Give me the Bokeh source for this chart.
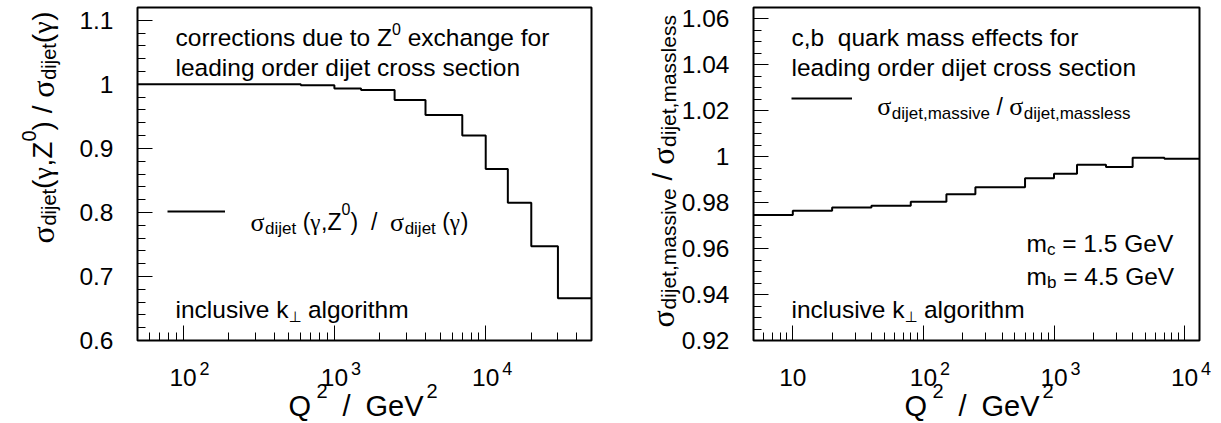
import math
import re
from bokeh.plotting import figure
from bokeh.models import FixedTicker, Label, Legend, LegendItem, BoxAnnotation
from bokeh.layouts import row
from bokeh.embed import file_html
from bokeh.resources import INLINE

# ---------------- data ----------------
# left panel: sigma_dijet(gamma,Z0)/sigma_dijet(gamma) vs Q^2 (bin edges + bin values)
q2_edges_z0 = [50, 80, 150, 250, 600, 1000, 1500, 2500, 4000, 7000, 10000, 14000, 20000, 30000, 50000]
ratio_z0 = [1.000, 1.000, 1.000, 1.000, 0.9985, 0.9935, 0.991, 0.9755, 0.952, 0.920, 0.868, 0.815, 0.747, 0.666]

# right panel: sigma_dijet,massive / sigma_dijet,massless vs Q^2
q2_edges_mass = [5, 10, 20, 40, 80, 150, 250, 600, 1000, 1500, 2500, 4000, 7000, 13000]
ratio_mass = [0.9746, 0.9765, 0.9779, 0.9787, 0.9804, 0.9837, 0.9867, 0.9906, 0.9926, 0.9965, 0.9956, 0.9996, 0.9991]

# ticks
xticks_left = [100, 1000, 10000]
xtick_labels_left = ["10", "10", "10"]
xtick_exp_left = ["2", "3", "4"]
xminor_left = [50, 60, 70, 80, 90, 200, 300, 400, 500, 600, 700, 800, 900,
               2000, 3000, 4000, 5000, 6000, 7000, 8000, 9000, 20000, 30000, 40000, 50000]
yticks_left = [0.6, 0.7, 0.8, 0.9, 1.0, 1.1]
ytick_labels_left = ["0.6", "0.7", "0.8", "0.9", "1", "1.1"]
yminor_left = [0.62, 0.64, 0.66, 0.68, 0.72, 0.74, 0.76, 0.78, 0.82, 0.84, 0.86, 0.88,
               0.92, 0.94, 0.96, 0.98, 1.02, 1.04, 1.06, 1.08, 1.12]

xticks_right = [10, 100, 1000, 10000]
xtick_labels_right = ["10", "10", "10", "10"]
xtick_exp_right = ["", "2", "3", "4"]
xminor_right = [5, 6, 7, 8, 9, 20, 30, 40, 50, 60, 70, 80, 90, 200, 300, 400, 500, 600, 700, 800, 900,
                2000, 3000, 4000, 5000, 6000, 7000, 8000, 9000]
yticks_right = [0.92, 0.94, 0.96, 0.98, 1.0, 1.02, 1.04, 1.06]
ytick_labels_right = ["0.92", "0.94", "0.96", "0.98", "1", "1.02", "1.04", "1.06"]
yminor_right = [0.925, 0.93, 0.935, 0.945, 0.95, 0.955, 0.965, 0.97, 0.975, 0.985, 0.99, 0.995,
                1.005, 1.01, 1.015, 1.025, 1.03, 1.035, 1.045, 1.05, 1.055, 1.065]

SANS = "Liberation Sans"
SERIF = "Liberation Serif"
H = 423

# approximate advance widths (1/1000 em), Arial-compatible
WID = {' ': 278, '(': 333, ')': 333, ',': 278, '/': 278, '=': 584, '.': 278,
       'a': 556, 'b': 556, 'c': 500, 'd': 556, 'e': 556, 'f': 278, 'g': 556, 'h': 556, 'i': 222,
       'j': 222, 'k': 500, 'l': 222, 'm': 833, 'n': 556, 'o': 556, 'p': 556, 'q': 556, 'r': 333,
       's': 500, 't': 278, 'u': 556, 'v': 500, 'w': 722, 'x': 500, 'y': 500, 'z': 500,
       'G': 778, 'Q': 778, 'V': 667, 'Z': 611, 'σ': 560, 'γ': 470, '⊥': 838}


def twidth(text, size):
    return sum(WID.get(ch, 556) for ch in text) * size / 1000.0


# plot-box geometry in page pixels (left, right, top, bottom), box ranges, canvas offset
LF = dict(L=137, R=591, T=7, B=340, x=(50, 50000), y=(0.6, 1.12), c0=0, w=610)
RF = dict(L=753, R=1199, T=7, B=340, x=(5, 13000), y=(0.92, 1.065), c0=610, w=611)


def to_data(fr, X, Y):
    lx0, lx1 = math.log10(fr["x"][0]), math.log10(fr["x"][1])
    xd = 10 ** (lx0 + (X - fr["L"]) / (fr["R"] - fr["L"]) * (lx1 - lx0))
    y0, y1 = fr["y"]
    yd = y0 + (fr["B"] - Y) / (fr["B"] - fr["T"]) * (y1 - y0)
    return xd, yd


def put(p, fr, text, X, Y, size, font=SANS, angle=0.0):
    xd, yd = to_data(fr, X, Y)
    p.add_layout(Label(x=xd, y=yd, x_units="data", y_units="data", text=text,
                       text_font=font, text_font_size=f"{size}px", text_color="black",
                       text_align="left", text_baseline="alphabetic", angle=angle))


def chain(p, fr, pieces, X0, Y0, vertical=False):
    pos = X0 if not vertical else Y0
    sgn = 1 if not vertical else -1
    for text, size, font, shift in pieces:
        sp = WID[' '] * size / 1000.0
        for tok in re.split(r'( {2,})', text):
            if tok == '':
                continue
            if tok.strip(' ') == '':
                pos += sgn * len(tok) * sp
                continue
            lead = len(tok) - len(tok.lstrip(' '))
            trail = len(tok) - len(tok.rstrip(' '))
            core = tok.strip(' ')
            pos += sgn * lead * sp
            if not vertical:
                put(p, fr, core, pos, Y0 + shift, size, font)
            else:
                put(p, fr, core, X0 + shift, pos, size, font, angle=math.pi / 2)
            pos += sgn * (twidth(core, size) + trail * sp)


def make_fig(fr, xt, xtl, xexp, xmin, yt, ytl, ymin):
    # the canvas is the whole frame; the plot box is drawn with the library's axes at fixed locations
    lx0, lx1 = math.log10(fr["x"][0]), math.log10(fr["x"][1])
    kx = (lx1 - lx0) / (fr["R"] - fr["L"])
    xs = 10 ** (lx0 - (fr["L"] - fr["c0"]) * kx)
    xe = 10 ** (lx1 + (fr["c0"] + fr["w"] - fr["R"]) * kx)
    y0, y1 = fr["y"]
    ky = (y1 - y0) / (fr["B"] - fr["T"])
    ys = y0 - (H - fr["B"]) * ky
    ye = y1 + fr["T"] * ky
    p = figure(width=fr["w"], height=H, x_axis_type="log", title_location=None,
               x_range=(xs, xe), y_range=(ys, ye), output_backend="svg", toolbar_location=None,
               min_border_left=0, min_border_right=0, min_border_top=0, min_border_bottom=0)
    p.xgrid.visible = False
    p.ygrid.visible = False
    p.background_fill_color = "white"
    p.border_fill_color = "white"
    p.outline_line_color = None
    p.xaxis.fixed_location = y0
    p.yaxis.fixed_location = fr["x"][0]
    p.xaxis.ticker = FixedTicker(ticks=xt, minor_ticks=xmin)
    p.yaxis.ticker = FixedTicker(ticks=yt, minor_ticks=ymin)
    p.xaxis.major_label_overrides = {t: s for t, s in zip(xt, xtl)}
    p.yaxis.major_label_overrides = {t: s for t, s in zip(yt, ytl)}
    for ax in (p.xaxis[0], p.yaxis[0]):
        ax.axis_line_color = None
        ax.major_tick_in = 15
        ax.major_tick_out = 0
        ax.minor_tick_in = 8
        ax.minor_tick_out = 0
        ax.major_tick_line_color = "black"
        ax.minor_tick_line_color = "black"
        ax.major_tick_line_width = 1
        ax.minor_tick_line_width = 1
        ax.major_label_text_font = SANS
        ax.major_label_text_font_size = "24.5px"
        ax.major_label_text_color = "black"
    p.xaxis.major_label_standoff = 28
    p.yaxis.major_label_standoff = 24
    p.add_layout(BoxAnnotation(left=fr["x"][0], right=fr["x"][1], bottom=y0, top=y1,
                               fill_color=None, line_color="black", line_width=2, line_alpha=1.0))
    # exponents of the decade tick labels
    for t, e in zip(xt, xexp):
        if e:
            p.add_layout(Label(x=t, y=y0, x_offset=16.5, y_offset=-27.5, text=e,
                               text_font=SANS, text_font_size="18px", text_color="black",
                               text_baseline="alphabetic", text_align="left"))
    return p


def add_legend(p, fr, r, X0, X1, Y):
    leg = Legend(items=[LegendItem(label=" ", renderers=[r])],
                 location=(X0 - fr["c0"], H - Y - 5),
                 padding=0, margin=0, spacing=0, glyph_width=int(round(X1 - X0)), glyph_height=10,
                 label_standoff=0, label_width=0, label_height=10, label_text_font_size="1px",
                 border_line_color=None, background_fill_alpha=0)
    p.add_layout(leg)


def x_title(p, fr, X0):
    put(p, fr, "Q", X0, 405, 29)
    put(p, fr, "2", X0 + 28, 390, 20)
    put(p, fr, "/", X0 + 54, 405, 29)
    put(p, fr, "GeV", X0 + 77, 405, 29)
    put(p, fr, "2", X0 + 138, 390, 20)


# ---------------- left panel ----------------
p1 = make_fig(LF, xticks_left, xtick_labels_left, xtick_exp_left, xminor_left,
              yticks_left, ytick_labels_left, yminor_left)
r1 = p1.step(x=q2_edges_z0, y=ratio_z0 + [ratio_z0[-1]], mode="after", line_color="black", line_width=2)
add_legend(p1, LF, r1, 166.7, 225, 210.7)

chain(p1, LF, [("corrections due to Z", 24.5, SANS, 0), ("0", 16, SANS, -8.7),
               (" exchange for", 24.5, SANS, 0)], 175, 37)
put(p1, LF, "leading order dijet cross section", 175, 66.7, 24.5)
chain(p1, LF, [("inclusive k", 24.5, SANS, 0), ("⊥", 15, "DejaVu Sans", 7.6),
               (" algorithm", 24.5, SANS, 0)], 175, 309.3)
chain(p1, LF, [("σ", 26, SERIF, 0), ("dijet", 17, SANS, 6.6), (" (", 23, SANS, 0), ("γ", 23, SERIF, 0),
               (",Z", 23, SANS, 0), ("0", 16, SANS, -13), (")  /  ", 23, SANS, 0), ("σ", 26, SERIF, 0),
               ("dijet", 17, SANS, 6.6), (" (", 23, SANS, 0), ("γ", 23, SERIF, 0), (")", 23, SANS, 0)],
      250, 221.7)
chain(p1, LF, [("σ", 32, SERIF, 0), ("dijet", 20, SANS, 6), ("(", 28, SANS, 0), ("γ", 28, SERIF, 0),
               (",Z", 28, SANS, 0), ("0", 20, SANS, -14), (") / ", 28, SANS, 0), ("σ", 32, SERIF, 0),
               ("dijet", 20, SANS, 6), ("(", 28, SANS, 0), ("γ", 28, SERIF, 0), (")", 28, SANS, 0)],
      42, 243, vertical=True)
x_title(p1, LF, 288)

# ---------------- right panel ----------------
p2 = make_fig(RF, xticks_right, xtick_labels_right, xtick_exp_right, xminor_right,
              yticks_right, ytick_labels_right, yminor_right)
r2 = p2.step(x=q2_edges_mass, y=ratio_mass + [ratio_mass[-1]], mode="after", line_color="black", line_width=2)
add_legend(p2, RF, r2, 791, 852, 97.7)

chain(p2, RF, [("c,b  quark mass effects for", 24.5, SANS, 0)], 791, 37.3)
put(p2, RF, "leading order dijet cross section", 791, 66.7, 24.5)
chain(p2, RF, [("σ", 26, SERIF, 0), ("dijet,massive", 17, SANS, 7.3), (" / ", 23, SANS, 0),
               ("σ", 26, SERIF, 0), ("dijet,massless", 17, SANS, 7.3)], 876.7, 106)
chain(p2, RF, [("m", 24.5, SANS, 0), ("c", 17, SANS, 6), (" = 1.5 GeV", 24.5, SANS, 0)], 1026, 242.7)
chain(p2, RF, [("m", 24.5, SANS, 0), ("b", 17, SANS, 6), (" = 4.5 GeV", 24.5, SANS, 0)], 1026, 276)
chain(p2, RF, [("inclusive k", 24.5, SANS, 0), ("⊥", 15, "DejaVu Sans", 7.6),
               (" algorithm", 24.5, SANS, 0)], 791, 309.3)
chain(p2, RF, [("σ", 32, SERIF, 0), ("dijet,massive", 21, SANS, 6), (" / ", 28, SANS, 0),
               ("σ", 32, SERIF, 0), ("dijet,massless", 21, SANS, 6)], 662, 327, vertical=True)
x_title(p2, RF, 904)

layout = row(p1, p2)
open("out.html", "w").write(file_html(layout, INLINE))
